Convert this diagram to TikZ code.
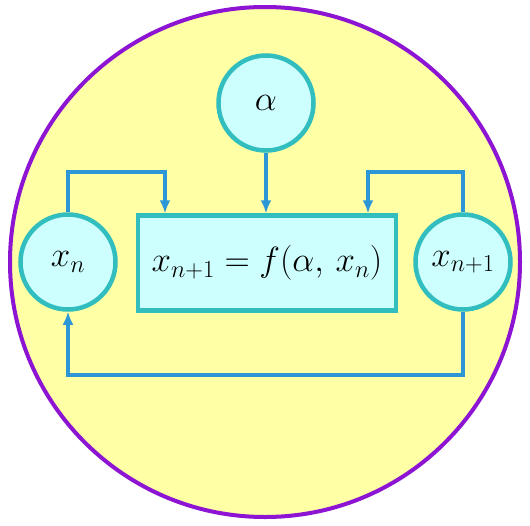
\RequirePackage{fix-cm}
\documentclass[tikz,border=0pt]{standalone}
\usetikzlibrary{arrows.meta}
\definecolor{bgyellow}{RGB}{255,255,165}
\definecolor{ringpurple}{RGB}{140,20,210}
\definecolor{tealedge}{RGB}{50,190,190}
\definecolor{cyanfill}{RGB}{205,255,255}
\definecolor{linkblue}{RGB}{45,150,215}
\begin{document}
\begin{tikzpicture}[x=1pt,y=-1pt,
  ball/.style={circle,draw=tealedge,fill=cyanfill,line width=4.5pt,minimum size=95pt,inner sep=0pt,font=\fontsize{35}{40}\selectfont},
  fbox/.style={rectangle,draw=tealedge,fill=cyanfill,line width=4.5pt,minimum width=258pt,minimum height=95pt,inner sep=0pt,font=\fontsize{35}{40}\selectfont},
  link/.style={draw=linkblue,line width=3.5pt},
  linkarrow/.style={link,-{Latex[length=13pt,width=11pt]}}]
\useasboundingbox (0,0) rectangle (530,525);
\node[circle,draw=ringpurple,fill=bgyellow,line width=4pt,minimum size=510pt,inner sep=0pt] (ring) at (265,262) {};
\node[ball] (alpha) at (266,103) {$\alpha$};
\node[ball] (xn) at (68,262) {$x_n$};
\node[ball] (xn1) at (463,262) {$x_{n+1}$};
\node[fbox] (f) at (267,263) {$x_{n+1}=f(\alpha,\,x_n)$};
\coordinate (t1) at (68,172);
\coordinate (t2) at (165,172);
\coordinate (t3) at (463,172);
\coordinate (t4) at (368,172);
\coordinate (b1) at (463,375);
\coordinate (b2) at (68,375);
\draw[linkarrow] (alpha.south) -- (alpha.south |- f.north);
\draw[linkarrow] (xn.north) -- (t1) -- (t2) -- (t2 |- f.north);
\draw[linkarrow] (xn1.north) -- (t3) -- (t4) -- (t4 |- f.north);
\draw[linkarrow] (xn1.south) -- (b1) -- (b2) -- (xn.south);
\end{tikzpicture}
\end{document}
